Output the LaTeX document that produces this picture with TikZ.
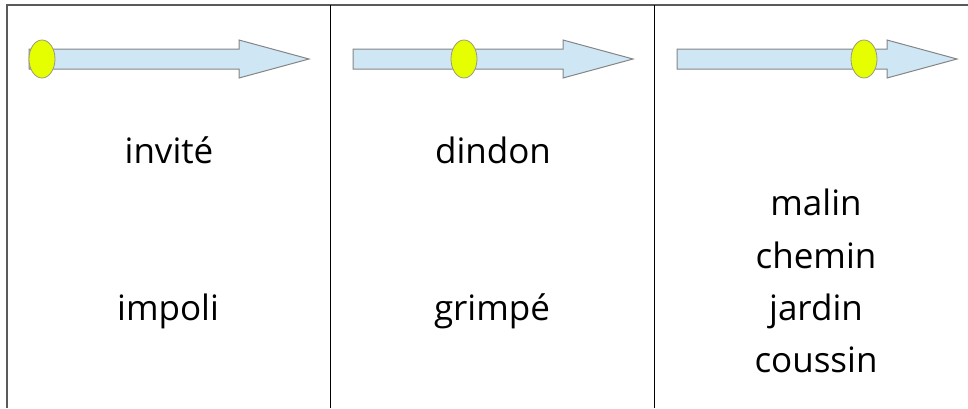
\documentclass[tikz,border=0pt]{standalone}
\usepackage{fontspec}
\setmainfont{Open Sans}
\usetikzlibrary{shapes.geometric}
\definecolor{arrowfill}{HTML}{CFE6F4}
\definecolor{arrowline}{HTML}{858585}
\definecolor{dotfill}{HTML}{E6FF00}
\definecolor{dotline}{HTML}{9A9A7A}
\definecolor{frameline}{HTML}{5A5A5A}
\tikzset{
  arrowshape/.style={fill=arrowfill, draw=arrowline, line width=1pt, line join=miter},
  dot/.style={ellipse, fill=dotfill, draw=dotline, line width=0.8pt, minimum width=26pt, minimum height=38pt, inner sep=0pt},
  word/.style={anchor=base, font=\fontsize{35}{52}\selectfont, inner sep=0pt, align=center},
  frame/.style={draw=frameline, line width=1.6pt},
  divider/.style={draw=black, line width=1pt}
}
\newcommand{\timearrow}[1]{%
  \path[arrowshape] (#1,49) -- (#1+210,49) -- (#1+210,40) -- (#1+280,59) -- (#1+210,78) -- (#1+210,69) -- (#1,69) -- cycle;}
\begin{document}
\begin{tikzpicture}[x=1pt,y=-1pt]
\useasboundingbox (0,0) rectangle (968,408);
% frame
\draw[frame] (7,408) -- (7,5) -- (968,5);
\draw[divider] (330,5) -- (330,408);
\draw[divider] (654,5) -- (654,408);
% arrows
\timearrow{29}
\timearrow{353}
\timearrow{677}
\node[dot] (d1) at (42,59) {};
\node[dot] (d2) at (464,59) {};
\node[dot] (d3) at (864,59) {};
% words
\node[word] (w1) at (169,163) {invité};
\node[word] (w2) at (168,320) {impoli};
\node[word] (w3) at (493,163) {dindon};
\node[word] (w4) at (492,320) {grimpé};
\node[word] (w5) at (816,215) {malin};
\node[word] (w6) at (816,268) {chemin};
\node[word] (w7) at (816,320) {jardin};
\node[word] (w8) at (816,372) {coussin};
\end{tikzpicture}
\end{document}
